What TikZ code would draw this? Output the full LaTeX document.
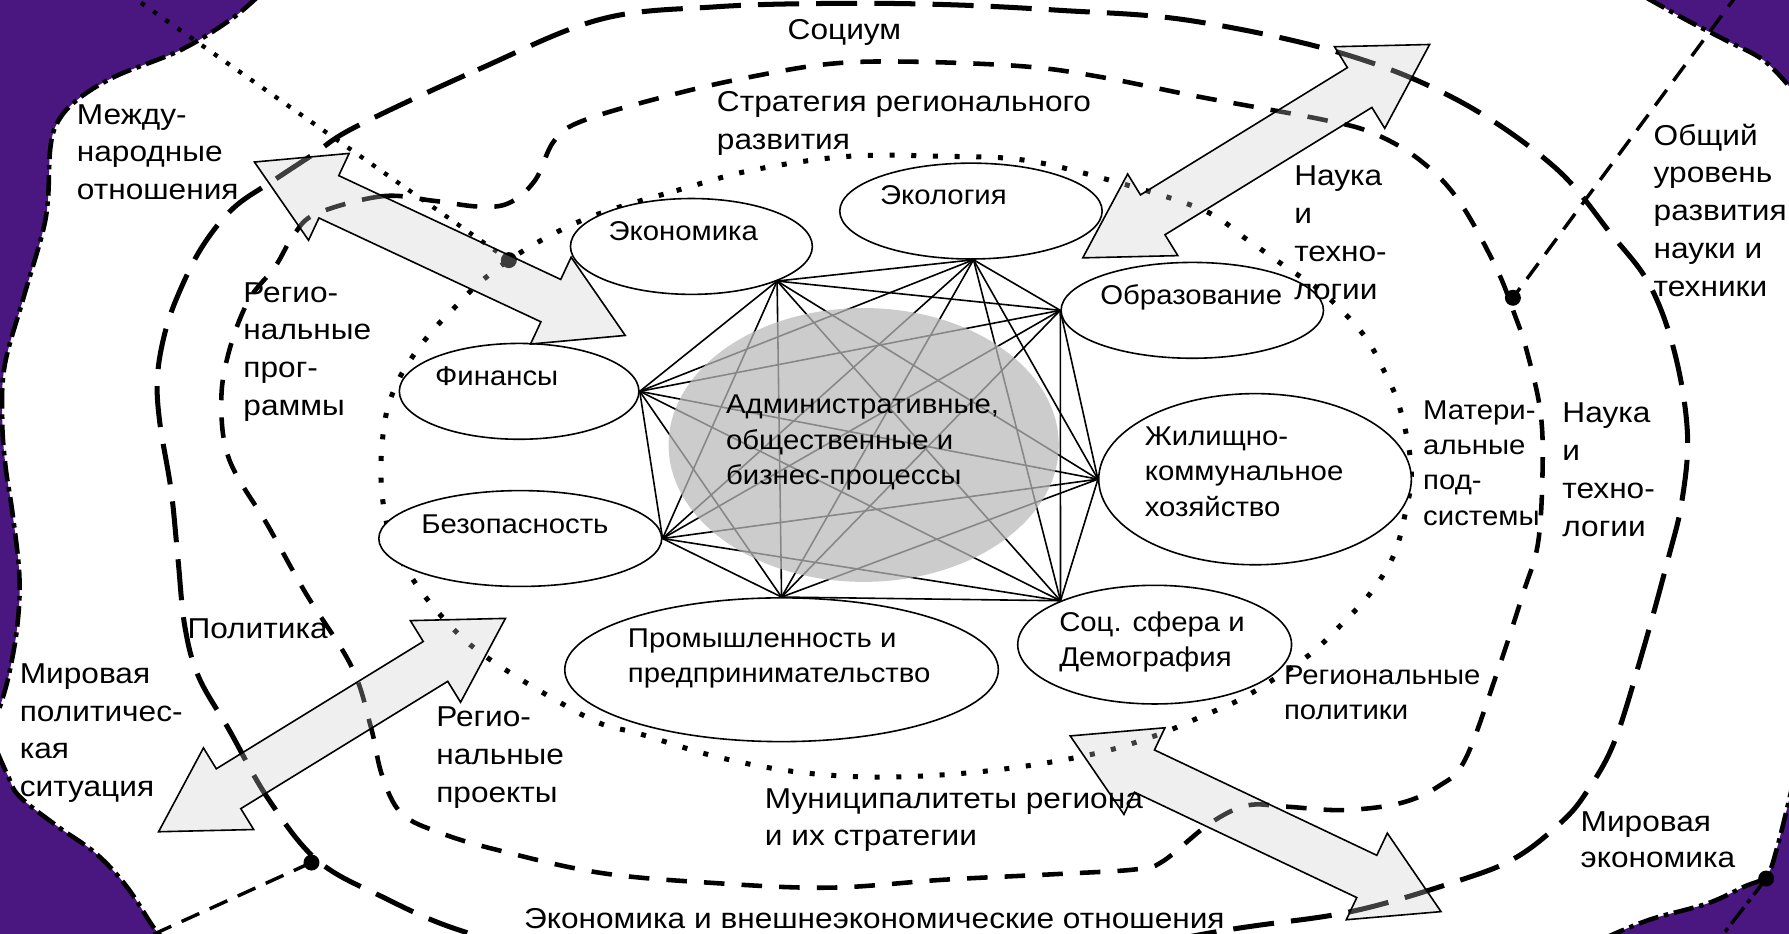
\documentclass[tikz,border=0pt]{standalone}
\usepackage{fontspec}
\setmainfont{Liberation Sans}
\newfontfamily\outfont[FakeStretch=1.10]{Liberation Sans}
\newfontfamily\infont[FakeStretch=1.08]{Liberation Sans}
\usetikzlibrary{calc,shapes.geometric}
\definecolor{bgpurple}{RGB}{74,22,128}
\newcommand{\lblfont}{\outfont\fontsize{12.6}{16.6}\selectfont}
\newcommand{\elfont}{\infont\fontsize{11.9}{15.4}\selectfont}
\newcommand{\blockarrow}[2]{%
  \draw[barrow] (#1)
   -- ($(#1)!36pt!(#2)!21pt!90:(#2)$)
   -- ($(#1)!36pt!(#2)!10.25pt!90:(#2)$)
   -- ($(#2)!36pt!(#1)!10.25pt!-90:(#1)$)
   -- ($(#2)!36pt!(#1)!21pt!-90:(#1)$)
   -- (#2)
   -- ($(#2)!36pt!(#1)!21pt!90:(#1)$)
   -- ($(#2)!36pt!(#1)!10.25pt!90:(#1)$)
   -- ($(#1)!36pt!(#2)!10.25pt!-90:(#2)$)
   -- ($(#1)!36pt!(#2)!21pt!-90:(#2)$)
   -- cycle;}
\begin{document}
\begin{tikzpicture}[x=0.5pt,y=-0.5pt,
  lbl/.style={anchor=north west, inner sep=0pt, align=left, font=\lblfont},
  ellbl/.style={anchor=north west, inner sep=0pt, align=left, font=\elfont},
  blob/.style={ellipse, draw=black, fill=white, line width=0.7pt, inner sep=0pt},
  outerline/.style={line width=2.2pt, dash pattern=on 18pt off 7.5pt},
  midline/.style={line width=2pt, dash pattern=on 9pt off 7.5pt},
  dotline/.style={line width=2.2pt, dash pattern=on 2.2pt off 7.3pt},
  thindots/.style={line width=1.9pt, dash pattern=on 1.9pt off 4.6pt},
  linkdash/.style={line width=1.5pt, dash pattern=on 8.5pt off 5pt},
  blobedge/.style={line width=2pt, dash pattern=on 9pt off 2.5pt on 2pt off 2.5pt},
  netline/.style={line width=0.7pt},
  barrow/.style={draw=black, line width=0.7pt, fill=black!20, fill opacity=0.3, line join=miter},
  joint/.style={circle, fill=black, inner sep=0pt, minimum size=7pt}]
\useasboundingbox (0,0) rectangle (1568,818);
\begin{scope}
\clip (0,0) rectangle (1568,818);
\fill[white] (0,0) rectangle (1568,818);
% purple surroundings
\filldraw[fill=bgpurple, draw=black, blobedge] plot[smooth, tension=0.6] coordinates {(225,-2) (201,18) (158,44) (101,67) (67,88) (50,108) (44,131) (42,175) (37,205) (20,263) (4,321) (2,370) (5,410) (11,450) (17,505) (15,550) (7,595) (-2,625)} -- (-50,625) -- (-50,-50) -- (225,-50) -- cycle;
\filldraw[fill=bgpurple, draw=black, blobedge] plot[smooth, tension=0.6] coordinates {(-2,660) (7,680) (17,698) (50,724) (84,748) (111,777) (134,812) (143,822)} -- (143,870) -- (-50,870) -- cycle;
\filldraw[fill=bgpurple, draw=black, blobedge] plot[smooth, tension=0.6] coordinates {(1407,822) (1446,806) (1496,792) (1529,777) (1548,768) (1557,745) (1570,693)} -- (1620,693) -- (1620,870) -- (1407,870) -- cycle;
\filldraw[fill=bgpurple, draw=black, blobedge] plot[smooth, tension=0.6] coordinates {(1443,-2) (1479,18) (1512,35) (1546,53) (1570,78)} -- (1620,78) -- (1620,-50) -- (1443,-50) -- cycle;

% joints
\node[joint] (j1) at (446,228) {};
\node[joint] (j2) at (1326,261) {};
\node[joint] (j3) at (273,756) {};
\node[joint] (j4) at (1548,770) {};
\coordinate (tl) at (113,-5);
\coordinate (tr) at (1525,-8);
\coordinate (bl) at (88,840);
\coordinate (br) at (1494,840);
\draw[thindots] (tl) -- (j1.center);
\draw[linkdash] (tr) -- (j2.center);
\draw[linkdash] (j3.center) -- (bl);
\draw[blobedge, line width=1.5pt] (j4.center) -- (br);

% rings
\draw[outerline] plot[smooth cycle, tension=0.6] coordinates {(312,111) (419,61) (526,17) (627,6) (727,3) (828,4) (928,9) (1043,18) (1177,47) (1278,88) (1362,146) (1412,205) (1446,250) (1468,310) (1479,380) (1474,440) (1462,490) (1440,570) (1415,650) (1390,695) (1368,721) (1328,752) (1278,772) (1184,799) (1076,815) (900,845) (700,855) (500,840) (402,815) (335,786) (278,754) (235,700) (201,640) (174,593) (162,549) (156,490) (150,430) (140,370) (138,330) (145,290) (158,254) (178,215) (205,182) (240,158) (275,135)};
\draw[midline] plot[smooth cycle, tension=0.6] coordinates {(278,187) (335,172) (380,176) (419,181) (446,178) (469,158) (486,123) (513,105) (593,82) (660,67) (727,56) (794,54) (895,58) (962,67) (1052,85) (1160,105) (1204,117) (1244,140) (1278,175) (1311,234) (1328,277) (1338,307) (1350,360) (1352,412) (1348,476) (1335,520) (1311,593) (1284,666) (1261,689) (1227,704) (1177,710) (1127,707) (1093,706) (1060,722) (1019,755) (995,762) (928,766) (828,771) (727,778) (627,774) (526,765) (436,745) (386,730) (352,713) (335,680) (325,637) (308,584) (268,520) (235,461) (201,403) (194,351) (201,307) (218,263) (241,234) (258,205)};
\draw[dotline] plot[smooth cycle, tension=0.6] coordinates {(526,187) (593,167) (660,149) (744,137) (828,137) (895,140) (962,155) (1052,183) (1093,210) (1127,234) (1160,257) (1194,292) (1211,321) (1227,358) (1237,412) (1231,453) (1221,488) (1201,520) (1177,546) (1150,572) (1120,593) (1087,613) (1053,628) (1012,645) (962,660) (895,672) (828,679) (761,681) (694,676) (627,663) (560,643) (526,634) (486,613) (443,587) (412,565) (386,539) (362,508) (342,470) (334,421) (337,371) (346,340) (360,315) (379,290) (400,268) (419,249) (446,228) (483,206)};

% subsystem ellipses
\node[blob, minimum width=106pt, minimum height=42pt] (econ) at (606,216) {};
\node[blob, minimum width=115pt, minimum height=42pt] (ecol) at (851,185) {};
\node[blob, minimum width=115pt, minimum height=42pt] (obr) at (1045,272) {};
\node[blob, minimum width=137pt, minimum height=75pt] (zhkh) at (1100,420) {};
\node[blob, minimum width=105pt, minimum height=42pt] (fin) at (455,343) {};
\node[blob, minimum width=124pt, minimum height=42pt] (bez) at (456,472) {};
\node[blob, minimum width=190pt, minimum height=63pt] (prom) at (685,587) {};
\node[blob, minimum width=120pt, minimum height=52pt] (soc) at (1012,565) {};

% network hubs
\coordinate (h1) at (fin.east);
\coordinate (h2) at (econ.-22);
\coordinate (h3) at (ecol.-87);
\coordinate (h4) at (obr.west);
\coordinate (h5) at (zhkh.west);
\coordinate (h6) at (soc.155);
\coordinate (h7) at (prom.north);
\coordinate (h8) at (bez.east);
\foreach \a/\b in {1/2,1/3,1/4,1/5,1/6,1/7,1/8,2/3,2/4,2/5,2/6,2/7,2/8,3/4,3/5,3/6,3/7,3/8,4/5,4/6,4/7,4/8,5/6,5/7,5/8,6/7,6/8,7/8}
  \draw[netline] (h\a) -- (h\b);

% core
\node[ellipse, fill=black!27, fill opacity=0.73, minimum width=171pt, minimum height=120pt, inner sep=0pt] (core) at (757,390) {};

% block arrows
\coordinate (a1s) at (223,142); \coordinate (a1e) at (548,294);
\coordinate (a2s) at (949,226); \coordinate (a2e) at (1253,39);
\coordinate (a3s) at (139,729); \coordinate (a3e) at (443,542);
\coordinate (a4s) at (938,645); \coordinate (a4e) at (1263,799);
\blockarrow{a1s}{a1e}
\blockarrow{a2s}{a2e}
\blockarrow{a3s}{a3e}
\blockarrow{a4s}{a4e}
\end{scope}

% labels
\node[lbl] (t-soc) at (690,17) {Социум};
\node[lbl] (t-str) at (628,80) {Стратегия регионального\\развития};
\node[lbl] (t-int) at (67,91) {Между-\\народные\\отношения};
\node[lbl] (t-rp) at (213,247) {Регио-\\нальные\\прог-\\раммы};
\node[ellbl] (t-econ) at (533,194) {Экономика};
\node[ellbl] (t-ecol) at (771,162) {Экология};
\node[ellbl] (t-obr) at (964,249) {Образование};
\node[lbl] (t-nt1) at (1134,145) {Наука\\и\\техно-\\логии};
\node[lbl] (t-gen) at (1449,108) {Общий\\уровень\\развития\\науки и\\техники};
\node[ellbl] (t-fin) at (381,321) {Финансы};
\node[ellbl] (t-core) at (636,346) {Административные,\\общественные и\\бизнес-процессы};
\node[ellbl] (t-zhkh) at (1003,374) {Жилищно-\\коммунальное\\хозяйство};
\node[ellbl] (t-mat) at (1247,351) {Матери-\\альные\\под-\\системы};
\node[lbl] (t-nt2) at (1369,353) {Наука\\и\\техно-\\логии};
\node[ellbl] (t-bez) at (369,451) {Безопасность};
\node[lbl] (t-pol) at (164,542) {Политика};
\node[lbl] (t-wps) at (17,581) {Мировая\\политичес-\\кая\\ситуация};
\node[ellbl] (t-prom) at (550,551) {Промышленность и\\предпринимательство};
\node[ellbl] (t-socs) at (928,536) {Соц. сфера и\\Демография};
\node[lbl] (t-rpr) at (382,619) {Регио-\\нальные\\проекты};
\node[ellbl] (t-rpol) at (1125,583) {Региональные\\политики};
\node[lbl, font=\outfont\fontsize{12.6}{16}\selectfont] (t-mun) at (670,691) {Муниципалитеты региона\\и их стратегии};
\node[lbl, font=\outfont\fontsize{12.6}{16}\selectfont] (t-we) at (1385,711) {Мировая\\экономика};
\node[lbl] (t-ext) at (459,796) {Экономика и внешнеэкономические отношения};
\end{tikzpicture}
\end{document}
